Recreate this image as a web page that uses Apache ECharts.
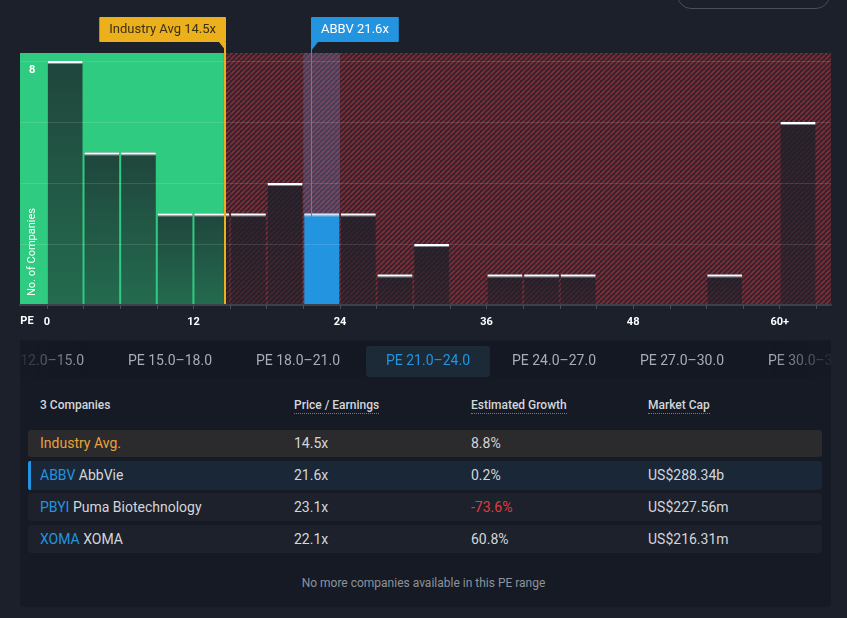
<!DOCTYPE html>
<html>
<head>
<meta charset="utf-8">
<script src="https://cdn.jsdelivr.net/npm/echarts@6/dist/echarts.min.js"></script>
<style>
  html, body { margin:0; padding:0; background:#1b202b; width:847px; height:618px; overflow:hidden; font-family: Roboto, "Noto Sans", sans-serif; }
  #chart { position:absolute; left:0; top:0; width:847px; height:340px; }
  #btn { position:absolute; left:677px; top:-20px; width:151px; height:27px; border:1px solid #4b505b; border-radius:14px; }
  #panel { position:absolute; left:20px; top:340px; width:811px; height:267px; background:#151a24; border-radius:0 0 4px 4px; }
  #tabs { position:absolute; left:20px; top:342px; width:811px; height:36px; overflow:hidden; background:#131822;
          -webkit-mask-image: linear-gradient(to right, rgba(0,0,0,0.1) 0px, #000 70px, #000 750px, rgba(0,0,0,0.1) 811px);
          mask-image: linear-gradient(to right, rgba(0,0,0,0.1) 0px, #000 70px, #000 750px, rgba(0,0,0,0.1) 811px); }
  .tab { position:absolute; top:0; height:36px; line-height:36px; font-size:14px; color:#a9adb5; transform:translateX(-50%); white-space:nowrap; }
  .tab.sel { color:#2394e0; background:#1c2936; top:4px; height:31px; line-height:29px; padding:0 20px; border-radius:3px; margin-left:2px; }
  .hdr { position:absolute; top:398px; font-size:12px; font-weight:500; color:#d3d6db; white-space:nowrap; }
  .hdr.u { border-bottom:1px dotted #2394e0; padding-bottom:1px; }
  .row { position:absolute; left:28px; width:794px; border-radius:3px; }
  .cell { position:absolute; top:0; font-size:14px; color:#d4d6da; white-space:nowrap; }
  .tk { color:#2394e0; }
  #foot { position:absolute; left:0; width:847px; top:576px; text-align:center; font-size:12px; color:#8d939c; }
</style>
</head>
<body>
<div id="chart"></div>
<div id="btn"></div>
<div id="panel"></div>
<div id="tabs"></div>
<div id="foot">No more companies available in this PE range</div>
<script>
// ---- chart data ----
const binStarts = [0,3,6,9,12,15,18,21,24,27,30,33,36,39,42,45,48,51,54,57,60];
const binWidth = 3;
const counts    = [8,5,5,3,3,3,4,3,3,1,2,0,1,1,1,0,0,0,1,0,6];
const xLabelValues = [0,12,24,36,48,60];
const xTickValues = [0,3,6,9,12,15,18,21,24,27,30,33,36,39,42,45,48,51,54,57,60,63];
const yLabelValues = [8];
const gridValues = [2,4,6,8];
const industryAvg = 14.5;
const abbvPE = 21.6;
const markerNames = ['Industry Avg', 'ABBV'];
const markerValues = [industryAvg, abbvPE];

// ---- table data ----
const tabLabels = ['PE 12.0–15.0','PE 15.0–18.0','PE 18.0–21.0','PE 21.0–24.0','PE 24.0–27.0','PE 27.0–30.0','PE 30.0–33.0'];
const selectedTab = 3;
const headers = ['3 Companies','Price / Earnings','Estimated Growth','Market Cap'];
const tickers = ['', 'ABBV', 'PBYI', 'XOMA'];
const names = ['Industry Avg.', 'AbbVie', 'Puma Biotechnology', 'XOMA'];
const peValues = ['14.5x','21.6x','23.1x','22.1x'];
const growthValues = ['8.8%','0.2%','-73.6%','60.8%'];
const marketCaps = ['', 'US$288.34b', 'US$227.56m', 'US$216.31m'];

// ---- build table ----
const tabsEl = document.getElementById('tabs');
tabLabels.forEach((t, i) => {
  const d = document.createElement('div');
  d.className = 'tab' + (i === selectedTab ? ' sel' : '');
  d.style.left = (22 + i * 128) + 'px';
  d.textContent = t;
  tabsEl.appendChild(d);
});
const colX = [40, 294, 471, 648];
headers.forEach((h, i) => {
  const d = document.createElement('div');
  d.className = 'hdr' + (i > 0 ? ' u' : '');
  d.style.left = colX[i] + 'px';
  d.textContent = h;
  document.body.appendChild(d);
});
const rowTops = [430, 461, 493, 525];
const rowHeights = [27, 29, 28, 28];
const rowBgs = ['#2b2a2c', '#192737', '#1c212b', '#1c212b'];
names.forEach((n, i) => {
  const r = document.createElement('div');
  r.className = 'row';
  r.style.top = rowTops[i] + 'px';
  r.style.height = rowHeights[i] + 'px';
  r.style.background = rowBgs[i];
  if (i === 1) { r.style.borderLeft = '3px solid #2394e0'; r.style.width = '791px'; r.style.borderRadius = '2px 3px 3px 2px'; }
  const lh = rowHeights[i] + 'px';
  const off = i === 1 ? 3 : 0;
  const mk = (x, html, color) => {
    const c = document.createElement('div');
    c.className = 'cell';
    c.style.left = (x - 28 - off) + 'px';
    c.style.lineHeight = lh;
    if (color) c.style.color = color;
    c.innerHTML = html;
    r.appendChild(c);
  };
  if (i === 0) mk(colX[0], n, '#e9a23b');
  else mk(colX[0], '<span class="tk">' + tickers[i] + '</span> ' + n);
  mk(colX[1], peValues[i]);
  mk(colX[2], growthValues[i], growthValues[i].startsWith('-') ? '#e5393f' : null);
  if (marketCaps[i]) mk(colX[3], marketCaps[i]);
  document.body.appendChild(r);
});

// ---- hatch pattern ----
const pat = document.createElement('canvas');
const P = 5;
pat.width = P; pat.height = P;
const pc = pat.getContext('2d');
pc.fillStyle = '#2a222d';
pc.fillRect(0, 0, P, P);
pc.strokeStyle = '#7c2c35';
pc.lineWidth = 2;
for (let k = -1; k <= 1; k++) {
  pc.beginPath();
  pc.moveTo(k * P, P);
  pc.lineTo(k * P + P, 0);
  pc.stroke();
}

const chart = echarts.init(document.getElementById('chart'), null, { renderer: 'canvas' });
const barData = binStarts.map((s, i) => [s, s + binWidth, counts[i]]);
const yMax = 8.26;

chart.setOption({
  animation: false,
  backgroundColor: 'transparent',
  grid: { left: 20, right: 16, top: 53, bottom: 35 },
  xAxis: {
    type: 'value', min: -2.2, max: 64.2, z: 10,
    splitLine: { show: false },
    axisLine: { show: true, lineStyle: { color: '#3b404b', width: 2 } },
    axisTick: { show: true, customValues: xTickValues, length: 4, lineStyle: { color: '#4a4f5a' } },
    axisLabel: { customValues: xLabelValues, color: '#ffffff', fontWeight: 'bold', fontSize: 11, margin: 12,
                 fontFamily: 'Roboto', formatter: v => v === 60 ? '60+' : String(v) }
  },
  yAxis: {
    type: 'value', min: 0, max: yMax, interval: 2, z: 10,
    splitLine: { show: false },
    axisLine: { show: false }, axisTick: { show: false },
    axisLabel: { inside: true, customValues: yLabelValues, color: '#ffffff', fontWeight: 'bold', fontSize: 11,
                 fontFamily: 'Roboto', margin: 9, verticalAlign: 'top', padding: [4, 0, 0, 0] }
  },
  graphic: [
    { type: 'text', z: 20, x: 27, y: 321, style: { text: 'PE', fill: '#ffffff', font: 'bold 11px Roboto', align: 'center', verticalAlign: 'middle' } },
    { type: 'text', z: 20, x: 32, y: 252, rotation: Math.PI / 2, style: { text: 'No. of Companies', fill: '#ffffff', font: '11px Roboto', align: 'center', verticalAlign: 'middle' } }
  ],
  series: [
    {
      type: 'line', data: [], z: 1, silent: true,
      markArea: {
        silent: true,
        data: [
          [{ xAxis: 'min', itemStyle: { color: '#2ecb80' } }, { xAxis: industryAvg }],
          [{ xAxis: industryAvg, itemStyle: { color: { image: pat, repeat: 'repeat' } } }, { xAxis: 'max' }]
        ]
      }
    },
    {
      type: 'line', data: [], z: 2, silent: true,
      markArea: {
        silent: true,
        data: [[{ xAxis: binStarts[7], itemStyle: { color: 'rgba(110,135,205,0.28)' } }, { xAxis: binStarts[7] + binWidth }]]
      },
      markLine: {
        silent: true, symbol: 'none', label: { show: false },
        lineStyle: { color: 'rgba(255,255,255,0.12)', width: 1, type: 'solid' },
        data: gridValues.map(v => ({ yAxis: v }))
      }
    },
    {
      type: 'custom', z: 3, clip: false,
      data: barData,
      encode: { x: [0, 1], y: 2 },
      renderItem(params, api) {
        const s = api.value(0), e = api.value(1), c = api.value(2);
        if (!c) return null;
        const p0 = api.coord([s, c]);
        const p1 = api.coord([e, 0]);
        const x = p0[0] + 1, w = p1[0] - p0[0] - 2, y = p0[1], h = p1[1] - p0[1];
        const isAbbv = s <= abbvPE && abbvPE < e;
        const fill = isAbbv ? '#2394e0' : new echarts.graphic.LinearGradient(0, 0, 0, 1, [
          { offset: 0, color: 'rgba(27,32,41,0.78)' },
          { offset: 1, color: 'rgba(27,32,41,0.56)' }
        ]);
        return {
          type: 'group',
          children: [
            { type: 'rect', shape: { x, y, width: w, height: h }, style: { fill } },
            { type: 'rect', shape: { x, y, width: w, height: 2 }, style: { fill: isAbbv ? '#cfe6fa' : '#ffffff' } },
            { type: 'rect', shape: { x, y: y + 2, width: w, height: 1 }, style: { fill: 'rgba(200,205,215,0.55)' } }
          ]
        };
      }
    },
    {
      type: 'custom', z: 5, clip: false,
      data: markerValues.map((v, i) => [v, i]),
      encode: { x: 0 },
      renderItem(params, api) {
        const v = api.value(0), i = api.value(1);
        const bottom = api.coord([v, 0]);
        const top = api.coord([v, yMax]);
        const lx = Math.round(bottom[0]);
        const boxBottom = top[1] - 11;
        const isInd = i === 0;
        const color = isInd ? '#ebb01c' : '#2394e0';
        const lw = isInd ? 2 : 1;
        const lineX = isInd ? lx + 1 : lx + 0.5;
        const edge = isInd ? lx + 2 : lx;
        const label = markerNames[i] + ' ' + v.toFixed(1) + 'x';
        return {
          type: 'group',
          children: [
            { type: 'line', shape: { x1: lineX, y1: bottom[1], x2: lineX, y2: boxBottom }, style: { stroke: color, lineWidth: lw } },
            { type: 'polygon', shape: { points: isInd
                ? [[edge - 7, boxBottom], [edge, boxBottom], [edge, boxBottom + 9]]
                : [[edge, boxBottom], [edge + 7, boxBottom], [edge, boxBottom + 9]] }, style: { fill: color } },
            { type: 'text', x: edge, y: boxBottom,
              style: { text: label, font: '13px Roboto', fill: isInd ? '#3b2f12' : '#ffffff',
                       backgroundColor: color, padding: [6, 10, 6, 10], lineHeight: 13,
                       align: isInd ? 'right' : 'left', verticalAlign: 'bottom', borderRadius: 1 } }
          ]
        };
      }
    }
  ]
});
</script>
</body>
</html>
